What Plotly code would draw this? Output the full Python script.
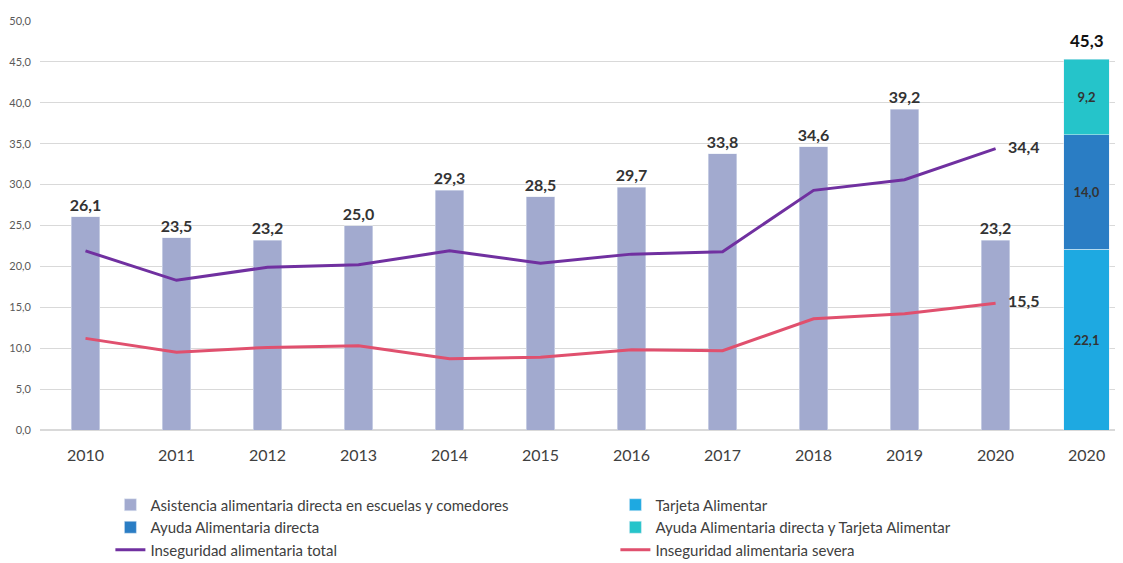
import plotly.graph_objects as go

years = ["2010", "2011", "2012", "2013", "2014", "2015", "2016", "2017", "2018", "2019", "2020"]
asistencia = [26.1, 23.5, 23.2, 25.0, 29.3, 28.5, 29.7, 33.8, 34.6, 39.2, 23.2]
inseg_total = [21.9, 18.3, 19.9, 20.2, 21.9, 20.4, 21.5, 21.8, 29.3, 30.6, 34.4]
inseg_severa = [11.2, 9.5, 10.1, 10.3, 8.7, 8.9, 9.8, 9.7, 13.6, 14.2, 15.5]
stack_label = "2020"
tarjeta = [22.1]
ayuda_directa = [14.0]
ayuda_y_tarjeta = [9.2]
tick_labels = years + [stack_label]

def fmt(v):
    return f"{v:.1f}".replace(".", ",")

FONT = "Lato, Open Sans, sans-serif"
xs = list(range(len(years)))
xstack = [len(years)]

fig = go.Figure()
fig.add_trace(go.Bar(
    x=xs, y=asistencia, width=0.31, name="Asistencia alimentaria directa en escuelas y comedores",
    marker_color="#A2AACF", text=["<b>" + fmt(v) + "</b>" for v in asistencia], textposition="outside",
    constraintext="none",
    textfont=dict(size=16, color="#333333", family=FONT), cliponaxis=False))
fig.add_trace(go.Bar(
    x=xstack, y=tarjeta, width=0.5, name="Tarjeta Alimentar", marker_color="#1EA9E1",
    text=["<b>" + fmt(v) + "</b>" for v in tarjeta], textposition="inside", insidetextanchor="middle",
    textfont=dict(size=13, color="#333333", family=FONT)))
fig.add_trace(go.Bar(
    x=xstack, y=ayuda_directa, width=0.5, name="Ayuda Alimentaria directa", marker_color="#2A7DC4",
    text=["<b>" + fmt(v) + "</b>" for v in ayuda_directa], textposition="inside", insidetextanchor="middle",
    textfont=dict(size=13, color="#333333", family=FONT)))
fig.add_trace(go.Bar(
    x=xstack, y=ayuda_y_tarjeta, width=0.5, name="Ayuda Alimentaria directa y Tarjeta Alimentar",
    marker_color="#25C4CA", text=["<b>" + fmt(v) + "</b>" for v in ayuda_y_tarjeta], textposition="inside",
    insidetextanchor="middle", textfont=dict(size=13, color="#333333", family=FONT)))
fig.add_trace(go.Scatter(
    x=xs, y=inseg_total, mode="lines+text", name="Inseguridad alimentaria total",
    line=dict(color="#7030A0", width=3),
    text=[""] * (len(xs) - 1) + ["   <b>" + fmt(inseg_total[-1]) + "</b>"], textposition="middle right",
    textfont=dict(size=16, color="#333333", family=FONT), cliponaxis=False))
fig.add_trace(go.Scatter(
    x=xs, y=inseg_severa, mode="lines+text", name="Inseguridad alimentaria severa",
    line=dict(color="#E0506E", width=3),
    text=[""] * (len(xs) - 1) + ["   <b>" + fmt(inseg_severa[-1]) + "</b>"], textposition="middle right",
    textfont=dict(size=16, color="#333333", family=FONT), cliponaxis=False))

total = tarjeta[0] + ayuda_directa[0] + ayuda_y_tarjeta[0]
fig.add_annotation(x=xstack[0], y=total, text="<b>" + fmt(total) + "</b>", showarrow=False,
                   yanchor="bottom", yshift=6, font=dict(size=17, color="#111111", family=FONT))

fig.update_layout(
    width=1115, height=555, barmode="stack", separators=",.",
    plot_bgcolor="white", paper_bgcolor="white",
    margin=dict(l=32, r=0, t=13, b=133, autoexpand=False),
    font=dict(family=FONT, color="#404040"),
    showlegend=True,
    legend=dict(orientation="h", x=0.065, y=-0.143,
                xanchor="left", yanchor="top",
                entrywidth=460, entrywidthmode="pixels", traceorder="normal",
                font=dict(size=15, color="#404040", family=FONT),
                itemwidth=30, tracegroupgap=0),
)
fig.update_xaxes(tickmode="array", tickvals=xs + xstack, ticktext=tick_labels,
                 range=[-0.5, 11.4], showgrid=False, zeroline=False, showline=False,
                 tickfont=dict(size=16, color="#404040", family=FONT), ticks="",
                 ticklabelstandoff=14)
fig.update_yaxes(range=[0, 50], dtick=5, tickformat=".1f", showgrid=True, gridcolor="#D9D9D9",
                 gridwidth=1, zeroline=True, zerolinecolor="#D9D9D9", showline=False,
                 tickfont=dict(size=11, color="#595959", family=FONT), ticks="", ticklabelstandoff=8)

fig.write_html("out.html")
